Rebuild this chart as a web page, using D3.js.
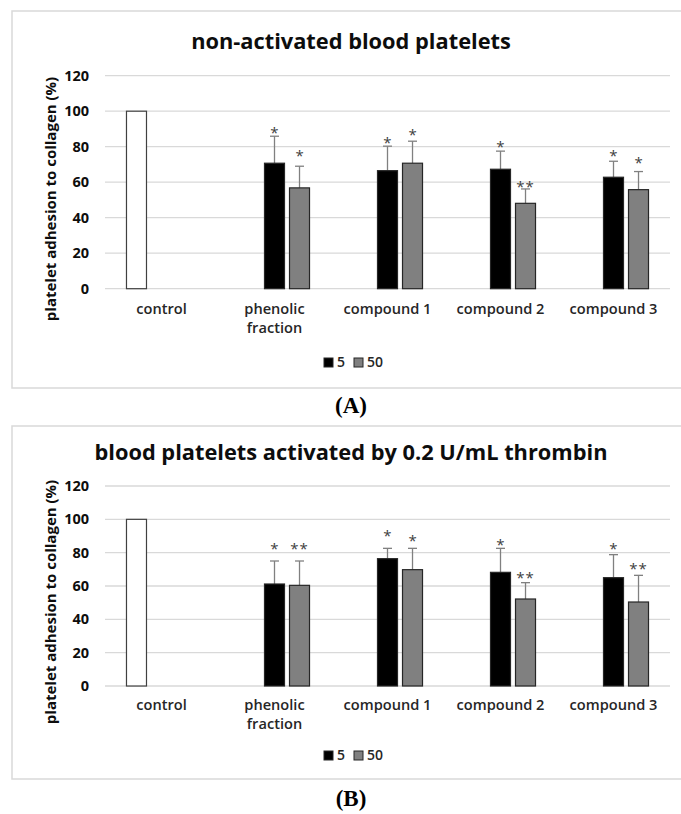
<!DOCTYPE html>
<html>
<head>
<meta charset="utf-8">
<script src="https://cdn.jsdelivr.net/npm/d3@7"></script>
<style>
  body { margin: 0; background: #fff; }
</style>
</head>
<body>
<div id="chart"></div>
<script>
// categories and series
var categories = ['control', 'phenolic fraction', 'compound 1', 'compound 2', 'compound 3'];
var series = ['control', '5', '50'];
var yTicks = [0, 20, 40, 60, 80, 100, 120];
var controlValue = 100;

// panel A: non-activated
var a5 = [null, 70.7, 66.5, 67.3, 62.8];
var a5err = [null, 15.2, 13.8, 10.2, 9.0];
var a50 = [null, 56.8, 70.7, 48.1, 55.8];
var a50err = [null, 12.2, 12.4, 8.1, 10.2];
var a5sig = ['', '*', '*', '*', '*'];
var a50sig = ['', '*', '*', '**', '*'];
var a5star = [null, 90.0, 84.6, 82.3, 76.9];
var a50star = [null, 77.2, 89.1, 59.8, 73.1];

// panel B: thrombin activated
var b5 = [null, 61.2, 76.4, 68.2, 65.0];
var b5err = [null, 13.8, 6.2, 14.4, 13.8];
var b50 = [null, 60.4, 69.8, 52.2, 50.4];
var b50err = [null, 14.6, 12.8, 9.8, 16.0];
var b5sig = ['', '*', '*', '*', '*'];
var b50sig = ['', '**', '*', '**', '**'];
var b5star = [null, 84.6, 92.6, 87.2, 84.6];
var b50star = [null, 84.6, 89.2, 67.2, 72.4];

var SANS = '"Open Sans", sans-serif';

var svg = d3.select('#chart').append('svg')
  .attr('width', 681)
  .attr('height', 814);

svg.append('rect')
  .attr('width', 681).attr('height', 814)
  .attr('fill', '#fff');

var x0 = d3.scaleBand()
  .domain(categories)
  .range([105, 670])
  .paddingInner(0.336)
  .paddingOuter(0.168);

var x1 = d3.scaleBand()
  .domain(series)
  .range([0, x0.bandwidth()])
  .paddingInner(0.2)
  .paddingOuter(0.1);

var fills = {control: '#fff', '5': '#000', '50': '#808080'};

var label = function(sel, size, weight, color){
  return sel.style('font-family', SANS)
    .style('font-size', size + 'px')
    .style('font-weight', weight)
    .attr('fill', color);
};

var drawPanel = function(p){
  var g = svg.append('g');

  // frame
  g.append('rect')
    .attr('x', 12).attr('y', p.frameTop)
    .attr('width', 700).attr('height', p.frameBottom - p.frameTop)
    .attr('fill', 'none')
    .attr('stroke', '#d9d9d9')
    .attr('stroke-width', 1.5);

  label(g.append('text'), 21.8, 700, '#0d0d0d')
    .attr('x', 351).attr('y', p.titleY)
    .attr('text-anchor', 'middle')
    .text(p.title);

  var y = d3.scaleLinear().domain([0, 120]).range([p.bottom, p.top]);

  // gridlines
  g.selectAll('.grid').data(yTicks).enter().append('line')
    .attr('x1', 105).attr('x2', 670)
    .attr('y1', function(d){ return y(d); })
    .attr('y2', function(d){ return y(d); })
    .attr('stroke', '#d9d9d9')
    .attr('stroke-width', 1.3);

  var yAxis = g.append('g')
    .attr('transform', 'translate(91,0)')
    .call(d3.axisLeft(y).tickValues(yTicks).tickSize(0).tickPadding(2));
  yAxis.select('.domain').remove();
  label(yAxis.selectAll('text'), 14.5, 700, '#0d0d0d');

  label(g.append('text'), 15, 700, '#0d0d0d')
    .attr('transform', 'translate(56,' + (p.yTitle) + ') rotate(-90)')
    .attr('text-anchor', 'middle')
    .text('platelet adhesion to collagen (%)');

  // category labels
  categories.forEach(function(c){
    var t = label(g.append('text'), 14.6, 600, '#262626')
      .attr('x', x0(c) + x0.bandwidth() / 2)
      .attr('y', p.catY)
      .attr('text-anchor', 'middle');
    var words = c === 'phenolic fraction' ? ['phenolic', 'fraction'] : [c];
    words.forEach(function(w, i){
      t.append('tspan')
        .attr('x', x0(c) + x0.bandwidth() / 2)
        .attr('dy', i === 0 ? 0 : 19)
        .text(w);
    });
  });

  // control bar
  g.append('rect')
    .attr('x', x0('control') + x1('control'))
    .attr('y', y(controlValue))
    .attr('width', x1.bandwidth())
    .attr('height', y(0) - y(controlValue))
    .attr('fill', fills.control)
    .attr('stroke', '#404040')
    .attr('stroke-width', 1.2);

  var sets = [
    {key: '5', vals: p.v5, err: p.e5, sig: p.s5, star: p.t5},
    {key: '50', vals: p.v50, err: p.e50, sig: p.s50, star: p.t50}
  ];

  sets.forEach(function(s){
    categories.forEach(function(c, i){
      if(s.vals[i] === null) return;
      var bx = x0(c) + x1(s.key);
      var cx = bx + x1.bandwidth() / 2;
      var top = s.vals[i] + s.err[i];

      g.append('line')
        .attr('x1', cx).attr('x2', cx)
        .attr('y1', y(s.vals[i])).attr('y2', y(top))
        .attr('stroke', '#808080').attr('stroke-width', 1.3);
      g.append('line')
        .attr('x1', cx - 4.5).attr('x2', cx + 4.5)
        .attr('y1', y(top)).attr('y2', y(top))
        .attr('stroke', '#808080').attr('stroke-width', 1.3);

      g.append('rect')
        .attr('x', bx)
        .attr('y', y(s.vals[i]))
        .attr('width', x1.bandwidth())
        .attr('height', y(0) - y(s.vals[i]))
        .attr('fill', fills[s.key])
        .attr('stroke', '#262626')
        .attr('stroke-width', 1.2);

      label(g.append('text'), 15, 400, '#404040')
        .attr('x', cx)
        .attr('y', y(s.star[i]) + 9)
        .attr('text-anchor', 'middle')
        .style('letter-spacing', s.sig[i].length > 1 ? '1px' : '0px')
        .text(s.sig[i]);
    });
  });

  // legend
  var lg = g.append('g');
  lg.append('rect').attr('x', 324).attr('y', p.legY - 9).attr('width', 9).attr('height', 9)
    .attr('fill', '#000').attr('stroke', '#262626');
  label(lg.append('text'), 14, 600, '#262626').attr('x', 337).attr('y', p.legY).text('5');
  lg.append('rect').attr('x', 354).attr('y', p.legY - 9).attr('width', 9).attr('height', 9)
    .attr('fill', '#808080').attr('stroke', '#262626');
  label(lg.append('text'), 14, 600, '#262626').attr('x', 367).attr('y', p.legY).text('50');

  svg.append('text')
    .attr('x', 351).attr('y', p.capY)
    .attr('text-anchor', 'middle')
    .style('font-family', '"Liberation Serif", "DejaVu Serif", serif')
    .style('font-size', '23px')
    .style('font-weight', 700)
    .attr('fill', '#000')
    .text(p.caption);
};

drawPanel({
  title: 'non-activated blood platelets', caption: '(A)',
  frameTop: 11, frameBottom: 388, titleY: 49,
  top: 75.7, bottom: 288.7, yTitle: 199, catY: 314, legY: 367, capY: 413,
  v5: a5, e5: a5err, s5: a5sig, t5: a5star,
  v50: a50, e50: a50err, s50: a50sig, t50: a50star
});

drawPanel({
  title: 'blood platelets activated by 0.2 U/mL thrombin', caption: '(B)',
  frameTop: 426, frameBottom: 779, titleY: 460,
  top: 486, bottom: 686, yTitle: 602, catY: 710, legY: 760, capY: 806,
  v5: b5, e5: b5err, s5: b5sig, t5: b5star,
  v50: b50, e50: b50err, s50: b50sig, t50: b50star
});
</script>
</body>
</html>
